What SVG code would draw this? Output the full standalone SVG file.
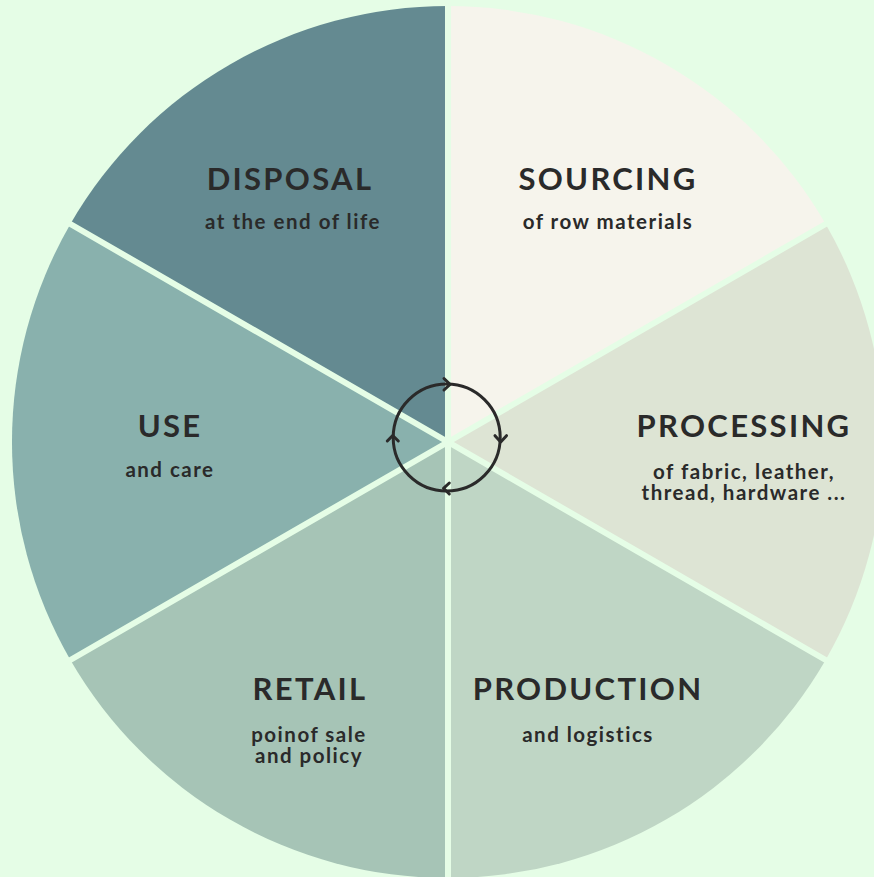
<svg xmlns="http://www.w3.org/2000/svg" width="874" height="877" viewBox="0 0 874 877">
<style>
.sep{stroke:#e5fde6;stroke-width:6;fill:none}
.t{font-family:"Lato","Liberation Sans",sans-serif;font-weight:bold;fill:#2a2a2a;text-anchor:middle;font-size:31px;letter-spacing:2.3px}
.s{font-family:"Lato","Liberation Sans",sans-serif;font-weight:bold;fill:#2a2a2a;text-anchor:middle;font-size:20.5px;letter-spacing:1.5px}
.ring{stroke:#2a2a2a;stroke-width:3;fill:none;stroke-linecap:round;stroke-linejoin:round}
</style>
<rect width="874" height="877" fill="#e5fde6"/>
<g id="sourcing">
<path d="M448,442 L448,6 A436,436 0 0 1 825.6,224 Z" fill="#f6f4ec"/>
<text class="t" x="608" y="190">SOURCING</text>
<text class="s" x="608" y="229">of row materials</text>
</g>
<g id="processing">
<path d="M448,442 L825.6,224 A436,436 0 0 1 825.6,660 Z" fill="#dde4d4"/>
<text class="t" x="744" y="437">PROCESSING</text>
<text class="s" x="744" y="479">of fabric, leather,</text>
<text class="s" x="744" y="500">thread, hardware ...</text>
</g>
<g id="production">
<path d="M448,442 L825.6,660 A436,436 0 0 1 448,878 Z" fill="#bfd6c5"/>
<text class="t" x="588" y="700">PRODUCTION</text>
<text class="s" x="588" y="742">and logistics</text>
</g>
<g id="retail">
<path d="M448,442 L448,878 A436,436 0 0 1 70.4,660 Z" fill="#a6c4b6"/>
<text class="t" x="310" y="700">RETAIL</text>
<text class="s" x="309" y="742">poinof sale</text>
<text class="s" x="309" y="763">and policy</text>
</g>
<g id="use">
<path d="M448,442 L70.4,660 A436,436 0 0 1 70.4,224 Z" fill="#89b1ad"/>
<text class="t" x="170" y="437">USE</text>
<text class="s" x="170" y="477">and care</text>
</g>
<g id="disposal">
<path d="M448,442 L70.4,224 A436,436 0 0 1 448,6 Z" fill="#648a91"/>
<text class="t" x="290" y="190">DISPOSAL</text>
<text class="s" x="293" y="229">at the end of life</text>
</g>
<g id="separators">
<path class="sep" d="M448,442 L448,0 M448,442 L448,877 M448,442 L830,221.5 M448,442 L830,662.5 M448,442 L66,221.5 M448,442 L66,662.5"/>
</g>
<g id="connectors">
<circle class="ring" cx="446.7" cy="437.5" r="53.5"/>
<path class="ring" d="M444,378.5 L450,384.3 L444,390"/>
<path class="ring" d="M495,435.7 L500.7,442 L506.5,435.7"/>
<path class="ring" d="M449.3,483 L443.5,488.3 L449.3,494"/>
<path class="ring" d="M387.3,441 L392.7,435.5 L398.3,441"/>
</g>
</svg>
